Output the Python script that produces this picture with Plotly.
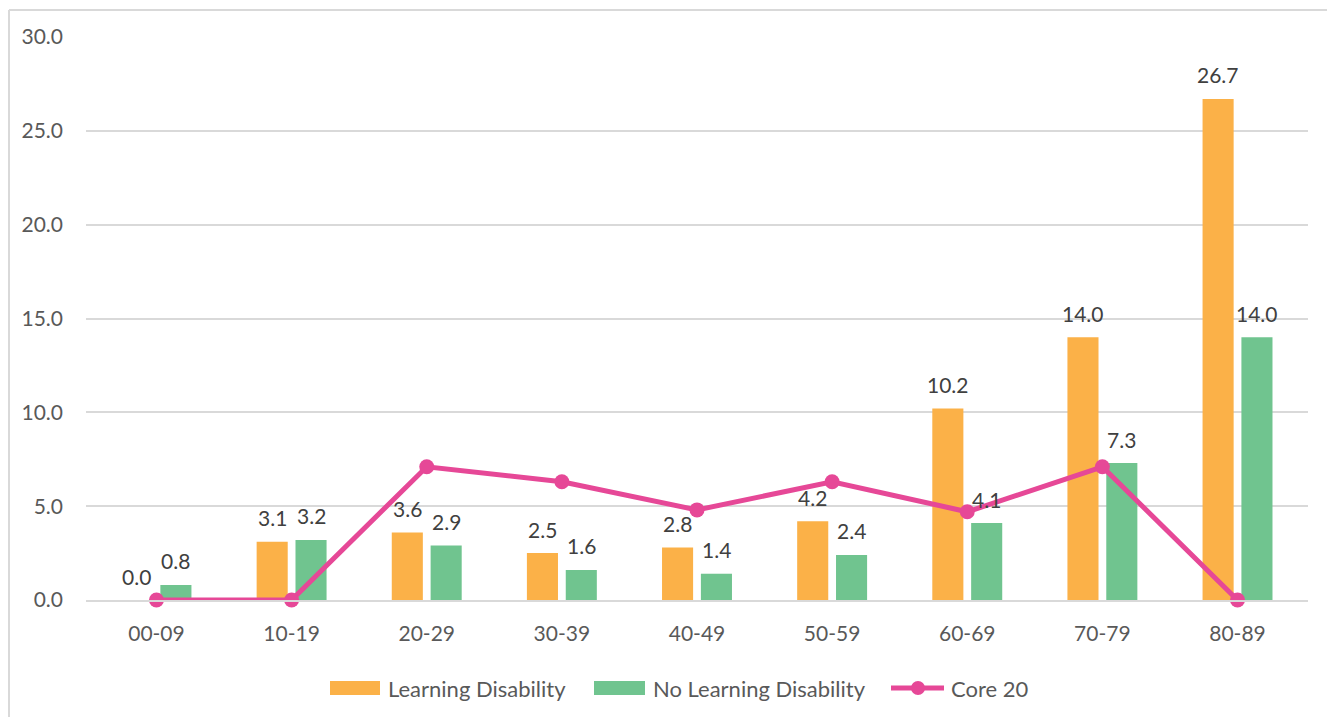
import plotly.graph_objects as go

categories = ["00-09", "10-19", "20-29", "30-39", "40-49", "50-59", "60-69", "70-79", "80-89"]
learning_disability = [0.0, 3.1, 3.6, 2.5, 2.8, 4.2, 10.2, 14.0, 26.7]
no_learning_disability = [0.8, 3.2, 2.9, 1.6, 1.4, 2.4, 4.1, 7.3, 14.0]
core_20 = [0.0, 0.0, 7.1, 6.3, 4.8, 6.3, 4.7, 7.1, 0.0]
y_ticks = [0, 5, 10, 15, 20, 25, 30]

ORANGE = "#FBB148"
GREEN = "#70C48F"
PINK = "#E64897"
TEXT = "#595959"
LABEL = "#404040"
GRID = "#D9D9D9"
FONT = "Lato, Open Sans, sans-serif"
FS = 21

W, H = 1327, 717
ML, MR, MT, MB = 86, 19, 37, 117
PW, PH = W - ML - MR, H - MT - MB


def px(x):
    return (x - ML) / PW


def py(y):
    return (H - MB - y) / PH


fig = go.Figure()
fig.add_trace(go.Bar(
    x=categories, y=learning_disability, name="Learning Disability",
    marker=dict(color=ORANGE, line=dict(width=0)), showlegend=False,
))
fig.add_trace(go.Bar(
    x=categories, y=no_learning_disability, name="No Learning Disability",
    marker=dict(color=GREEN, line=dict(width=0)), showlegend=False,
))
fig.add_trace(go.Scatter(
    x=categories, y=core_20, name="Core 20", mode="lines+markers",
    line=dict(color=PINK, width=5), marker=dict(color=PINK, size=15),
    cliponaxis=False, showlegend=False,
))

# value labels above each bar
annotations = []
for series, shift in ((learning_disability, -19.5), (no_learning_disability, 19.5)):
    for cat, v in zip(categories, series):
        annotations.append(dict(
            x=cat, y=v, xref="x", yref="y", text=f"{v:.1f}", showarrow=False,
            xshift=shift, yshift=24, yanchor="middle", xanchor="center",
            font=dict(size=FS, color=LABEL, family=FONT),
        ))

# legend drawn beneath the plot
LEG_Y = 688
legend_items = [
    ("Learning Disability", 386),
    ("No Learning Disability", 651),
    ("Core 20", 949),
]
for label, x in legend_items:
    annotations.append(dict(
        x=px(x), y=py(LEG_Y), xref="paper", yref="paper", text=label,
        showarrow=False, xanchor="left", yanchor="middle",
        font=dict(size=22, color=TEXT, family=FONT),
    ))

shapes = [
    # chart frame (top and left edges)
    dict(type="line", xref="paper", yref="paper", x0=px(9), x1=px(W + 2),
         y0=py(10), y1=py(10), line=dict(color=GRID, width=2), layer="below"),
    dict(type="line", xref="paper", yref="paper", x0=px(9), x1=px(9),
         y0=py(10), y1=py(H + 2), line=dict(color=GRID, width=2), layer="below"),
    # legend swatches
    dict(type="rect", xref="paper", yref="paper", x0=px(330), x1=px(380),
         y0=py(695), y1=py(681), fillcolor=ORANGE, line=dict(width=0)),
    dict(type="rect", xref="paper", yref="paper", x0=px(594), x1=px(645),
         y0=py(695), y1=py(681), fillcolor=GREEN, line=dict(width=0)),
    dict(type="line", xref="paper", yref="paper", x0=px(891), x1=px(944),
         y0=py(LEG_Y), y1=py(LEG_Y), line=dict(color=PINK, width=5)),
    dict(type="circle", xref="paper", yref="paper", xsizemode="pixel",
         ysizemode="pixel", xanchor=px(918), yanchor=py(LEG_Y),
         x0=-7, x1=7, y0=-7, y1=7, fillcolor=PINK, line=dict(width=0)),
]

fig.update_layout(
    width=W, height=H,
    margin=dict(l=ML, r=MR, t=MT, b=MB),
    paper_bgcolor="white", plot_bgcolor="white",
    font=dict(family=FONT, color=TEXT, size=FS),
    barmode="group", bargap=0.425, bargroupgap=0.2,
    showlegend=False,
    xaxis=dict(
        type="category",
        showgrid=False, showline=True, linecolor=GRID, linewidth=2,
        ticks="", ticklabelstandoff=14, tickfont=dict(size=FS, color=TEXT),
    ),
    yaxis=dict(
        range=[0, 30], tickvals=y_ticks, tickformat=".1f",
        showgrid=True, gridcolor=GRID, gridwidth=2,
        zeroline=False, showline=False, ticks="",
        ticklabelstandoff=22, tickfont=dict(size=FS, color=TEXT),
    ),
    annotations=annotations,
    shapes=shapes,
)

fig.write_html("out.html")
